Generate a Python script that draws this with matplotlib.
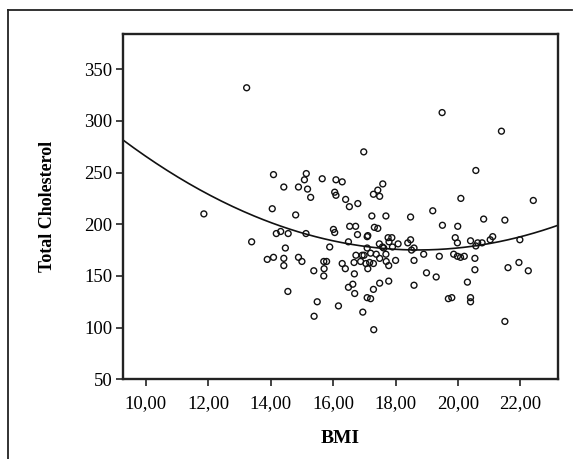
import matplotlib
matplotlib.use('Agg')
import matplotlib.pyplot as plt
from matplotlib.lines import Line2D
from matplotlib.ticker import FuncFormatter
import numpy as np

# values
bmi = [11.86, 13.23, 13.39, 13.89, 14.09, 14.05, 14.09, 14.18, 14.32, 14.42,
       14.42, 14.42, 14.47, 14.56, 14.55, 14.80, 14.89, 14.89, 15.00, 15.08,
       15.14, 15.13, 15.18, 15.28, 15.38, 15.39, 15.49, 15.65, 15.70, 15.79,
       15.71, 15.70, 15.89, 16.01, 16.05, 16.05, 16.09, 16.09, 16.29, 16.17,
       16.29, 16.40, 16.39, 16.49, 16.49, 16.52, 16.53, 16.63, 16.67, 16.68,
       16.69, 16.72, 16.73, 16.78, 16.79, 16.88, 16.93, 16.95, 16.98, 16.99,
       17.05, 17.09, 17.11, 17.09, 17.11, 17.09, 17.17, 17.20, 17.24, 17.20,
       17.29, 17.29, 17.30, 17.29, 17.32, 17.43, 17.43, 17.49, 17.48, 17.49,
       17.49, 17.59, 17.58, 17.69, 17.69, 17.70, 17.76, 17.78, 17.79, 17.78,
       17.88, 17.90, 18.00, 18.08, 18.39, 18.48, 18.48, 18.51, 18.59, 18.59,
       18.59, 18.90, 18.99, 19.19, 19.30, 19.40, 19.49, 19.50, 19.69, 19.80,
       19.86, 19.91, 19.98, 19.98, 19.99, 20.08, 20.09, 20.20, 20.30, 20.40,
       20.40, 20.40, 20.54, 20.54, 20.57, 20.57, 20.63, 20.77, 20.82, 21.03,
       21.11, 21.39, 21.50, 21.50, 21.60, 21.95, 21.98, 22.25, 22.41, 17.62,
       17.38]
chol = [210, 332, 183, 166, 168, 215, 248, 191, 193, 236,
        167, 160, 177, 191, 135, 209, 236, 168, 164, 243,
        249, 191, 234, 226, 155, 111, 125, 244, 164, 164,
        157, 150, 178, 195, 192, 231, 228, 243, 241, 121,
        162, 224, 157, 183, 139, 217, 198, 142, 163, 152,
        133, 198, 170, 190, 220, 164, 170, 115, 270, 170,
        162, 188, 189, 177, 157, 129, 163, 172, 208, 128,
        162, 229, 98, 137, 197, 196, 233, 227, 181, 167,
        143, 239, 178, 208, 171, 164, 187, 160, 183, 145,
        187, 178, 165, 181, 182, 207, 185, 175, 177, 165,
        141, 171, 153, 213, 149, 169, 308, 199, 128, 129,
        171, 187, 182, 169, 198, 168, 225, 169, 144, 184,
        129, 125, 167, 156, 252, 179, 182, 182, 205, 185,
        188, 290, 204, 106, 158, 163, 185, 155, 223, 177,
        171]

x_ticks = [10, 12, 14, 16, 18, 20, 22]
y_ticks = [50, 100, 150, 200, 250, 300, 350]

plt.rcParams['font.family'] = ['Liberation Serif', 'DejaVu Serif']

fig = plt.figure(figsize=(5.8, 4.59), dpi=100)
ax = fig.add_axes([0.2126, 0.1736, 0.962 - 0.2126, 0.9259 - 0.1736])

ax.scatter(bmi, chol, s=18, facecolors='none', edgecolors='#111111',
           linewidths=1.0, zorder=3)

# quadratic fit line
coef = np.polyfit(bmi, chol, 2)
xs = np.linspace(9.28, 23.2, 200)
ax.plot(xs, np.polyval(coef, xs), color='#111111', lw=1.2, zorder=2)

ax.set_xlim(9.28, 23.2)
ax.set_ylim(50, 384)
ax.set_xticks(x_ticks)
ax.set_yticks(y_ticks)
ax.xaxis.set_major_formatter(FuncFormatter(lambda v, p: f'{v:.2f}'.replace('.', ',')))
ax.tick_params(labelsize=13.5, length=5, width=1.2, color='#222222')
ax.tick_params(axis='x', pad=6)
ax.tick_params(axis='y', pad=3)
for s in ax.spines.values():
    s.set_linewidth(1.7)
    s.set_color('#222222')

ax.set_xlabel('BMI', fontsize=14, fontweight='bold', labelpad=13)
ax.set_ylabel('Total Cholesterol', fontsize=13, fontweight='bold', labelpad=20)

# outer frame
fig.add_artist(Line2D([8 / 580, 572 / 580], [1 - 10 / 459, 1 - 10 / 459],
                      transform=fig.transFigure, color='#222222', lw=1.3))
fig.add_artist(Line2D([8 / 580, 8 / 580], [1 - 10 / 459, 0],
                      transform=fig.transFigure, color='#222222', lw=1.3))

fig.savefig('out.png', dpi=100)
